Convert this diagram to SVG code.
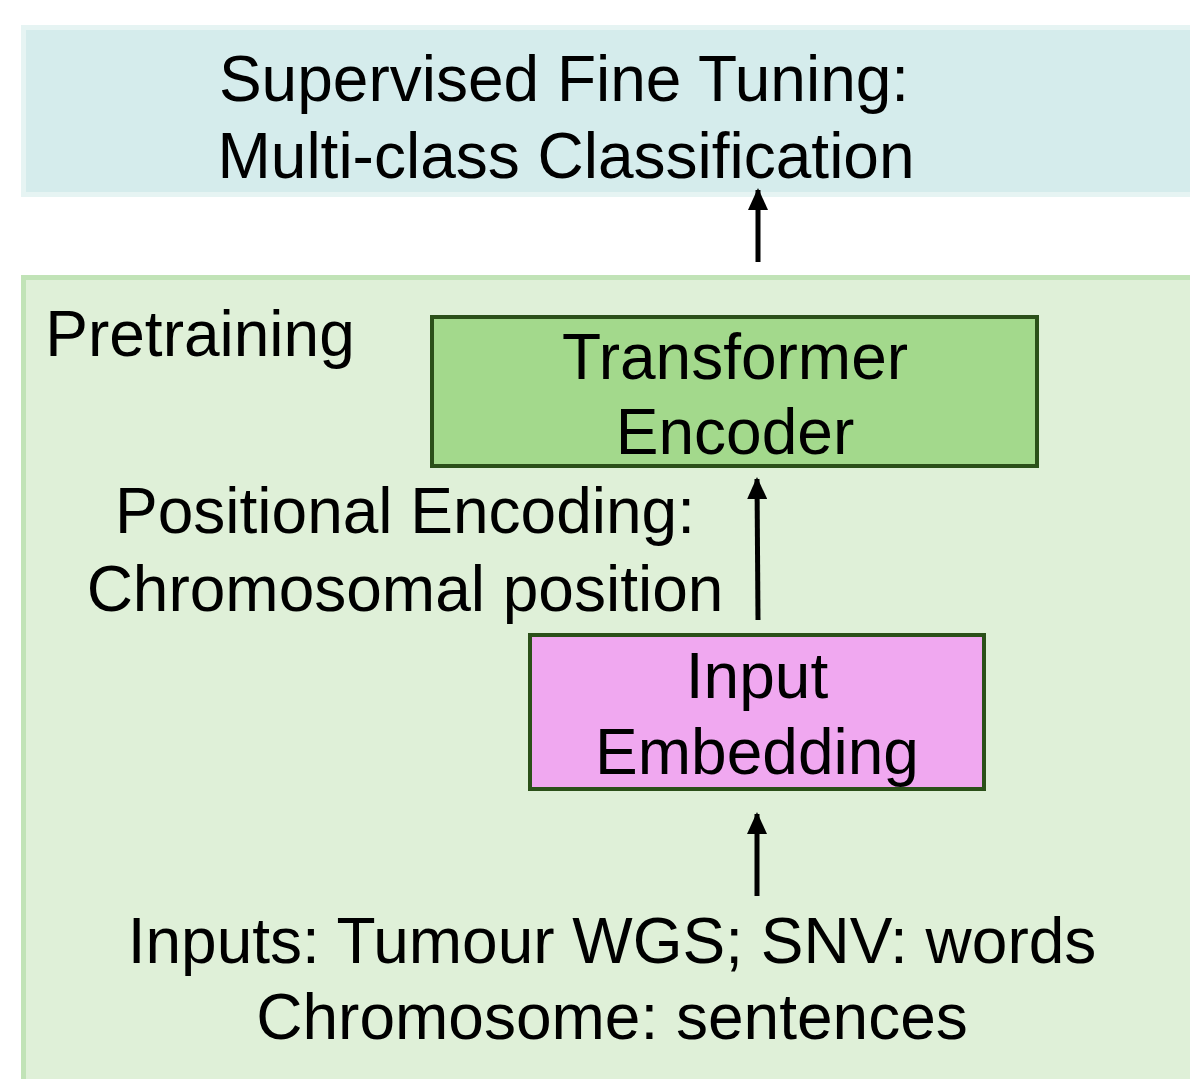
<svg xmlns="http://www.w3.org/2000/svg" width="1190" height="1079" viewBox="0 0 1190 1079">
<defs>
<style>
text{font-family:"Liberation Sans",Arial,sans-serif;font-size:64px;fill:#000;text-anchor:middle}
.node{stroke:#2b5019;stroke-width:4}
.conn{stroke:#000;stroke-width:5;fill:none;marker-end:url(#ah)}
</style>
<marker id="ah" viewBox="0 0 22 20" refX="20" refY="10" markerWidth="22" markerHeight="20" markerUnits="userSpaceOnUse" orient="auto">
<path d="M0,0 L22,10 L0,20 z" fill="#000"/>
</marker>
</defs>
<rect width="1190" height="1079" fill="#fff"/>
<g id="finetune">
<rect x="23.5" y="27.5" width="1180" height="167" fill="#d5ecec" stroke="#e6f4f3" stroke-width="5"/>
<text x="564" y="101">Supervised Fine Tuning:</text>
<text x="566" y="178">Multi-class Classification</text>
</g>
<g id="pretraining">
<rect x="23.5" y="277.5" width="1180" height="820" fill="#dff0d8" stroke="#c1e3b7" stroke-width="5"/>
<text x="200" y="356">Pretraining</text>
</g>
<g id="transformer">
<rect class="node" x="432" y="317" width="605" height="149" fill="#a3d98c"/>
<text x="735" y="379">Transformer</text>
<text x="735" y="454">Encoder</text>
</g>
<g id="embedding">
<rect class="node" x="530" y="635" width="454" height="154" fill="#f0a8f0"/>
<text x="757" y="698">Input</text>
<text x="757" y="774">Embedding</text>
</g>
<g id="posenc">
<text x="405" y="533">Positional Encoding:</text>
<text x="405" y="611">Chromosomal position</text>
</g>
<g id="inputs">
<text x="612" y="963">Inputs: Tumour WGS; SNV: words</text>
<text x="612" y="1039">Chromosome: sentences</text>
</g>
<g id="connectors">
<line class="conn" x1="758" y1="262" x2="758" y2="190"/>
<line class="conn" x1="758" y1="620" x2="757" y2="479"/>
<line class="conn" x1="757" y1="896" x2="757" y2="814"/>
</g>
</svg>
